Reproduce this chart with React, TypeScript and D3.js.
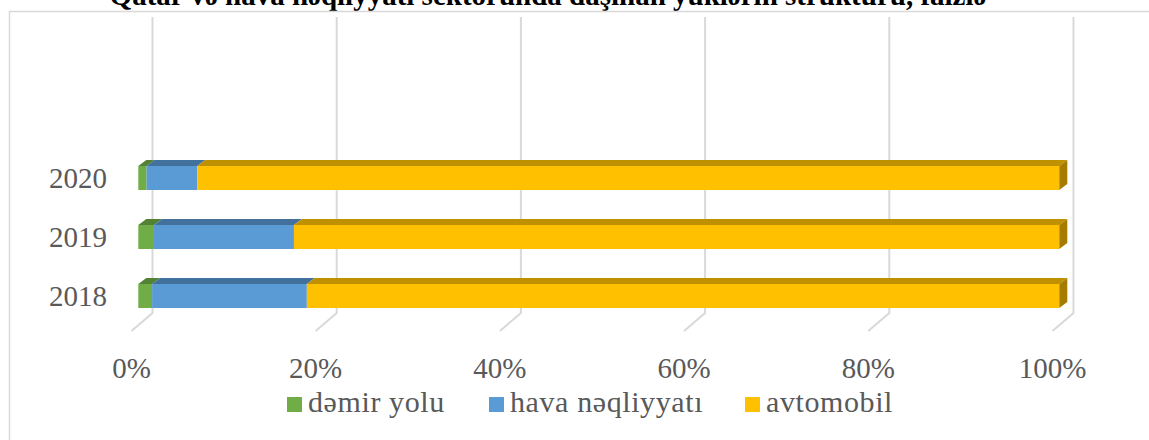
import React from "react";
import * as d3 from "d3";

const years = ["2020", "2019", "2018"];
const seriesNames = ["dəmir yolu", "hava nəqliyyatı", "avtomobil"];
// shares in percent, by year (same order as years)
const railShare = [0.9, 1.7, 1.5];
const airShare = [5.5, 15.2, 16.8];
const roadShare = [93.6, 83.1, 81.7];
const tickValues = [0, 20, 40, 60, 80, 100];

const colors = ["#70AD47", "#5B9BD5", "#FFC000"];
const topColors = ["#548235", "#41719C", "#BF9000"];
const sideColor = "#A67C00";

const W = 1149;
const H = 440;
const font = "'Liberation Serif', 'DejaVu Serif', serif";
const textColor = "#595959";
const gridColor = "#D9D9D9";

// 3d offsets
const barDx = 8;
const barDy = -6;
const floorDx = -21;
const floorDy = 18;

export default function App() {
  const x = d3.scaleLinear().domain([0, 100]).range([138.3, 1059.3]);
  const xBack = d3.scaleLinear().domain([0, 100]).range([152.5, 1073.5]);
  const y = d3
    .scaleBand()
    .domain(years)
    .range([148.5, 325.5])
    .paddingInner(0.593)
    .paddingOuter(0.2965);

  const gridTop = 17;
  const gridBottom = 313;

  const rows = years.map((yr, i) => {
    const vals = [railShare[i], airShare[i], roadShare[i]];
    let acc = 0;
    const segs = vals.map((v, k) => {
      const s = { k, x0: acc, x1: acc + v };
      acc += v;
      return s;
    });
    return { yr, segs };
  });

  const legendX = [287, 489, 745];

  return (
    <svg
      width={W}
      height={H}
      style={{ position: "absolute", left: 0, top: 0, background: "#fff", fontFamily: font }}
    >
      <rect x={0} y={0} width={W} height={H} fill="#fff" />
      {/* title, clipped at the top like the source */}
      <text
        x={548}
        y={5}
        textAnchor="middle"
        fontSize={29}
        fontWeight="bold"
        fill="#000"
      >
        Qatar və hava nəqliyyatı sektorunda daşınan yüklərin strukturu, faizlə
      </text>
      <rect
        x={9.5}
        y={11.5}
        width={W + 20}
        height={H + 20}
        fill="none"
        stroke={gridColor}
        strokeWidth={1.5}
      />

      {/* gridlines on back wall and floor */}
      {tickValues.map((t) => (
        <polyline
          key={t}
          points={`${xBack(t)},${gridTop} ${xBack(t)},${gridBottom} ${
            xBack(t) + floorDx
          },${gridBottom + floorDy}`}
          fill="none"
          stroke={gridColor}
          strokeWidth={2}
        />
      ))}

      {/* bars */}
      {rows.map((r) => {
        const y0 = y(r.yr) as number;
        const h = y.bandwidth();
        const last = r.segs[r.segs.length - 1];
        return (
          <g key={r.yr}>
            {r.segs.map((s) => (
              <g key={s.k}>
                <polygon
                  points={`${x(s.x0)},${y0} ${x(s.x0) + barDx},${y0 + barDy} ${
                    x(s.x1) + barDx
                  },${y0 + barDy} ${x(s.x1)},${y0}`}
                  fill={topColors[s.k]}
                />
                <rect
                  x={x(s.x0)}
                  y={y0}
                  width={x(s.x1) - x(s.x0)}
                  height={h}
                  fill={colors[s.k]}
                />
              </g>
            ))}
            <polygon
              points={`${x(last.x1)},${y0} ${x(last.x1) + barDx},${y0 + barDy} ${
                x(last.x1) + barDx
              },${y0 + h + barDy} ${x(last.x1)},${y0 + h}`}
              fill={sideColor}
            />
            <text
              x={107}
              y={y0 + h / 2}
              dy="0.35em"
              textAnchor="end"
              fontSize={29}
              fill={textColor}
            >
              {r.yr}
            </text>
          </g>
        );
      })}

      {/* x tick labels */}
      {tickValues.map((t) => (
        <text
          key={t}
          x={xBack(t) + floorDx}
          y={378}
          textAnchor="middle"
          fontSize={29}
          fill={textColor}
        >
          {t}%
        </text>
      ))}

      {/* legend */}
      {seriesNames.map((name, i) => (
        <g key={name} transform={`translate(${legendX[i]},397)`}>
          <rect width={15} height={15} fill={colors[i]} />
          <text x={21} y={15} fontSize={30} letterSpacing={0.6} fill={textColor}>
            {name}
          </text>
        </g>
      ))}
    </svg>
  );
}
